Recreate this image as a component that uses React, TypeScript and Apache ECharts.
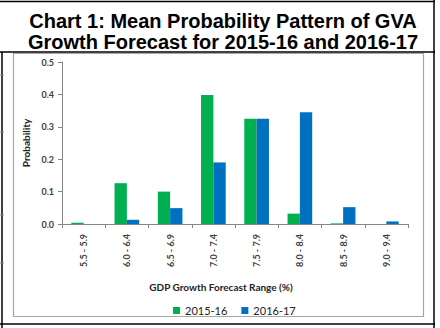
import React, { useEffect, useRef } from "react";
import * as echarts from "echarts";

const categories = ["5.5 - 5.9", "6.0 - 6.4", "6.5 - 6.9", "7.0 - 7.4", "7.5 - 7.9", "8.0 - 8.4", "8.5 - 8.9", "9.0 - 9.4"];
const series2015 = [0.004, 0.126, 0.1, 0.398, 0.325, 0.032, 0.002, 0];
const series2016 = [0, 0.013, 0.049, 0.19, 0.325, 0.345, 0.052, 0.008];
const yTicks = [0, 0.1, 0.2, 0.3, 0.4, 0.5];
const seriesNames = ["2015-16", "2016-17"];
const titleLines = ["Chart 1: Mean Probability Pattern of GVA", "Growth Forecast for 2015-16 and 2016-17"];

export default function App() {
  const ref = useRef<HTMLDivElement>(null);
  useEffect(() => {
    if (!ref.current) return;
    const chart = echarts.init(ref.current, null, { renderer: "svg" });
    const font = "Lato, 'Open Sans', sans-serif";
    const axisColor = "#868686";
    chart.setOption({
      animation: false,
      backgroundColor: "#ffffff",
      title: {
        text: titleLines.join("\n"),
        left: 218,
        textAlign: "center",
        top: 5,
        textStyle: {
          fontFamily: "'Liberation Sans', Arial, sans-serif",
          fontWeight: "bold",
          fontSize: 20,
          lineHeight: 21,
          color: "#000",
        },
      },
      graphic: [
        { type: "line", shape: { x1: 0, y1: 1.5, x2: 435, y2: 1.5 }, style: { stroke: "#000", lineWidth: 1.5 } },
        { type: "line", shape: { x1: 0, y1: 52, x2: 435, y2: 52 }, style: { stroke: "#000", lineWidth: 1.5 } },
        { type: "line", shape: { x1: 0, y1: 324, x2: 435, y2: 324 }, style: { stroke: "#000", lineWidth: 1.5 } },
        { type: "line", shape: { x1: 2, y1: 52, x2: 2, y2: 328 }, style: { stroke: "#000", lineWidth: 1.5 } },
        { type: "line", shape: { x1: 434, y1: 0, x2: 434, y2: 328 }, style: { stroke: "#000", lineWidth: 1.5 } },
        { type: "rect", shape: { x: 13.5, y: 53.5, width: 410, height: 263 }, style: { fill: "none", stroke: "#a6a6a6", lineWidth: 1.2 } },
        { type: "line", shape: { x1: 0, y1: 75, x2: 4, y2: 75 }, style: { stroke: "#888", lineWidth: 1 } },
        { type: "line", shape: { x1: 0, y1: 132, x2: 4, y2: 132 }, style: { stroke: "#888", lineWidth: 1 } },
        { type: "line", shape: { x1: 0, y1: 215, x2: 4, y2: 215 }, style: { stroke: "#888", lineWidth: 1 } },
        { type: "line", shape: { x1: 0, y1: 263, x2: 4, y2: 263 }, style: { stroke: "#888", lineWidth: 1 } },
      ],
      legend: {
        data: seriesNames,
        left: 168,
        top: 300,
        icon: "rect",
        itemWidth: 7,
        itemHeight: 7,
        itemGap: 14,
        textStyle: { fontFamily: font, fontSize: 11, color: "#222" },
      },
      grid: { left: 62, right: 32, top: 62, bottom: 104, containLabel: false },
      xAxis: {
        type: "category",
        data: categories,
        name: "GDP Growth Forecast Range (%)",
        nameLocation: "middle",
        nameGap: 58,
        nameTextStyle: { fontFamily: font, fontSize: 10, fontWeight: "bold", color: "#222", padding: [0, 28, 0, 0] },
        axisLine: { lineStyle: { color: axisColor, width: 1 } },
        axisTick: { show: true, length: 4, lineStyle: { color: axisColor } },
        axisLabel: {
          rotate: 90,
          interval: 0,
          fontFamily: font,
          fontSize: 9,
          fontWeight: "bold",
          color: "#404040",
          margin: 10,
        },
      },
      yAxis: {
        type: "value",
        min: 0,
        max: 0.5,
        interval: 0.1,
        name: "Probability",
        nameLocation: "middle",
        nameGap: 30,
        nameTextStyle: { fontFamily: font, fontSize: 10, fontWeight: "bold", color: "#222" },
        axisLine: { show: true, lineStyle: { color: axisColor, width: 1 } },
        axisTick: { show: true, length: 4, lineStyle: { color: axisColor } },
        splitLine: { show: false },
        axisLabel: {
          fontFamily: font,
          fontSize: 9,
          fontWeight: "bold",
          color: "#404040",
          margin: 8,
          formatter: (v: number) => (yTicks.includes(Math.round(v * 10) / 10) ? v.toFixed(1) : ""),
        },
      },
      series: [
        {
          name: seriesNames[0],
          type: "bar",
          data: series2015,
          itemStyle: { color: "#00B050" },
          barGap: "0%",
          barCategoryGap: "43%",
        },
        {
          name: seriesNames[1],
          type: "bar",
          data: series2016,
          itemStyle: { color: "#0070C0" },
          barGap: "0%",
          barCategoryGap: "43%",
        },
      ],
    });
    return () => chart.dispose();
  }, []);
  return <div ref={ref} style={{ position: "absolute", left: 0, top: 0, width: 440, height: 328 }} />;
}
